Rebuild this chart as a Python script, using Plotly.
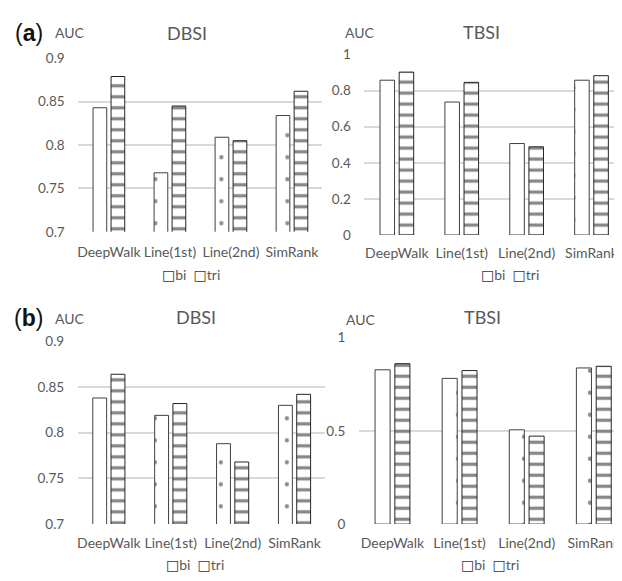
import plotly.graph_objects as go

categories = ["DeepWalk", "Line(1st)", "Line(2nd)", "SimRank"]
series_names = ["bi", "tri"]

a_dbsi_bi = [0.843, 0.768, 0.809, 0.834]
a_dbsi_tri = [0.879, 0.845, 0.805, 0.862]
a_tbsi_bi = [0.858, 0.737, 0.507, 0.858]
a_tbsi_tri = [0.903, 0.846, 0.489, 0.883]
b_dbsi_bi = [0.838, 0.819, 0.788, 0.830]
b_dbsi_tri = [0.864, 0.832, 0.768, 0.842]
b_tbsi_bi = [0.828, 0.782, 0.506, 0.838]
b_tbsi_tri = [0.861, 0.824, 0.472, 0.847]

dbsi_ticks = [0.7, 0.75, 0.8, 0.85, 0.9]
dbsi_ticktext = ["0.7", "0.75", "0.8", "0.85", "0.9"]
a_tbsi_ticks = [0, 0.2, 0.4, 0.6, 0.8, 1]
a_tbsi_ticktext = ["0", "0.2", "0.4", "0.6", "0.8", "1"]
b_tbsi_ticks = [0, 0.5, 1]
b_tbsi_ticktext = ["0", "0.5", "1"]

W, H = 622, 581
OFF = 8  # default page margin of the html body
FW, FH = W - OFF, H - OFF
FONT = "Lato, 'Open Sans', sans-serif"
GREY = "#595959"
GRID = "#d9d9d9"

bi_pattern = dict(shape=".", size=22, solidity=0.03, fgcolor="#1a1a1a", bgcolor="white", fillmode="overlay")
tri_pattern = dict(shape="-", size=11, solidity=0.3, fgcolor="#111111", bgcolor="white", fillmode="overlay")

fig = go.Figure()
panels = [
    ("x", "y", a_dbsi_bi, a_dbsi_tri),
    ("x2", "y2", a_tbsi_bi, a_tbsi_tri),
    ("x3", "y3", b_dbsi_bi, b_dbsi_tri),
    ("x4", "y4", b_tbsi_bi, b_tbsi_tri),
]
for xa, ya, bi, tri in panels:
    fig.add_trace(go.Bar(x=categories, y=bi, name=series_names[0], xaxis=xa, yaxis=ya,
                         showlegend=False,
                         marker=dict(color="white", pattern=bi_pattern,
                                     line=dict(color="#404040", width=1))))
    fig.add_trace(go.Bar(x=categories, y=tri, name=series_names[1], xaxis=xa, yaxis=ya,
                         showlegend=False,
                         marker=dict(color="white", pattern=tri_pattern,
                                     line=dict(color="#262626", width=1))))

def fx(p):
    return (p - OFF) / FW

def fy(p):
    return 1 - (p - OFF) / FH

def px_x(a, b):
    return [max(fx(a), 0), min(fx(b), 1.0)]

def px_y(top, bottom):
    return [max(fy(bottom), 0), min(fy(top), 1.0)]

def xax(anchor, dom, rng, tl):
    return dict(anchor=anchor, domain=dom, type="category", range=rng,
                showgrid=False, showline=False, zeroline=False,
                tickfont=dict(family=FONT, size=14, color=GREY),
                ticks="outside", ticklen=tl, tickcolor="rgba(0,0,0,0)")

def yax(anchor, dom, rng, tv, tt):
    return dict(anchor=anchor, domain=dom, range=rng, tickvals=tv, ticktext=tt,
                showgrid=True, gridcolor=GRID, gridwidth=1.5,
                showline=False, zeroline=False,
                tickfont=dict(family=FONT, size=13.5, color=GREY),
                ticks="outside", ticklen=10, tickcolor="rgba(0,0,0,0)")

fig.update_layout(
    xaxis=xax("y", px_x(77.5, 322), [-0.5, 3.5], 7),
    xaxis2=xax("y2", px_x(364, 622), [-0.5, 3.47], 5),
    xaxis3=xax("y3", px_x(77, 325), [-0.5, 3.5], 6),
    xaxis4=xax("y4", px_x(358.5, 622), [-0.5, 3.42], 6),
    yaxis=yax("x", px_y(51.5, 230), [0.7, 0.9], dbsi_ticks, dbsi_ticktext),
    yaxis2=yax("x2", px_y(47.7, 233.3), [0, 1], a_tbsi_ticks, a_tbsi_ticktext),
    yaxis3=yax("x3", px_y(342.7, 530.7), [0.7, 0.9], dbsi_ticks, dbsi_ticktext),
    yaxis4=yax("x4", px_y(339, 530.7), [0, 1], b_tbsi_ticks, b_tbsi_ticktext),
)

annotations = []
def ann(text, x, y, size, color=GREY, family=FONT):
    annotations.append(dict(text=text, x=fx(x), y=fy(y), xref="paper", yref="paper",
                            xanchor="center", yanchor="middle", showarrow=False,
                            font=dict(family=family, size=size, color=color)))

ann("DBSI", 186, 25, 18)
ann("TBSI", 481, 24, 18)
ann("DBSI", 195, 318, 18)
ann("TBSI", 482, 318, 18)
ann("AUC", 69.5, 25, 14)
ann("AUC", 360, 25, 14)
ann("AUC", 69.5, 319, 14)
ann("AUC", 361, 320, 14)
ann("(<b>a</b>)", 28, 25, 23, color="#111111", family="Liberation Sans, Arial, sans-serif")
ann("(<b>b</b>)", 28, 319, 23, color="#111111", family="Liberation Sans, Arial, sans-serif")

# legends below each panel
box = '<span style="color:#333333;font-family:DejaVu Sans">\u25a1</span>'
legend_text = box + series_names[0] + "  " + box + series_names[1]
ann(legend_text, 190, 274, 14)
ann(legend_text, 510, 274, 14)
ann(legend_text, 194, 572, 14)
ann(legend_text, 490, 572, 14)

fig.update_layout(
    annotations=annotations,
    width=FW, height=FH,
    margin=dict(l=0, r=0, t=0, b=0),
    paper_bgcolor="white", plot_bgcolor="white",
    barmode="group", bargap=0.41, bargroupgap=0.24,
    showlegend=False,
    font=dict(family=FONT, color=GREY),
)

fig.write_html("out.html")
